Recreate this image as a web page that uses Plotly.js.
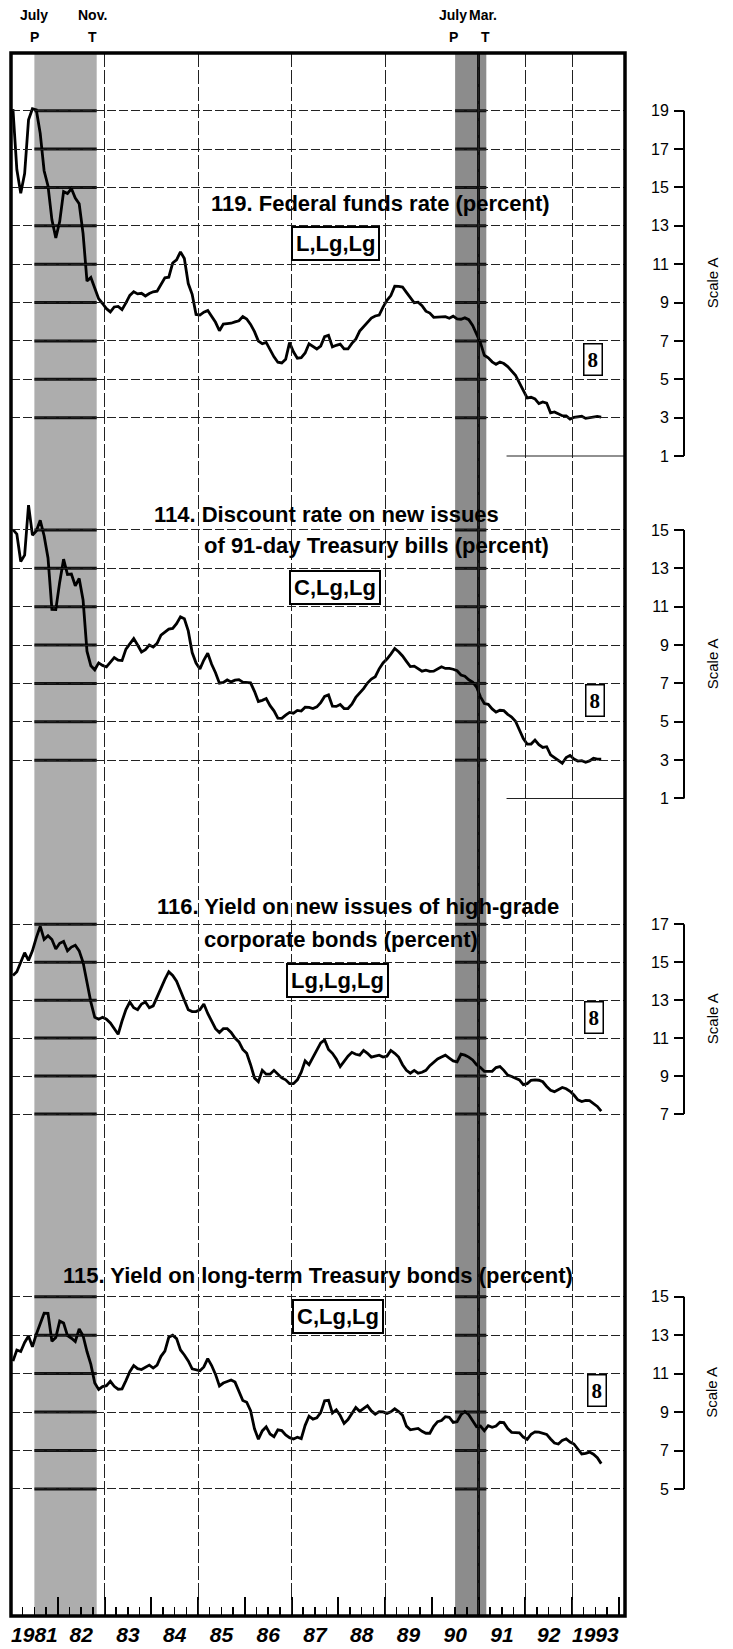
<!DOCTYPE html>
<html><head><meta charset="utf-8">
<script src="https://cdn.plot.ly/plotly-3.0.1.min.js"></script>
<style>html,body{margin:0;padding:0;background:#fff}#chart{width:733px;height:1649px}</style>
</head><body><div id="chart"></div>
<script>
// ---------------- DATA (monthly, Jan 1981 - Aug 1993) ----------------
const startYear = 1981;

const fedFunds = [
19.08,15.93,14.70,15.72,18.52,19.10,19.04,17.82,15.87,15.08,13.31,12.37,
13.22,14.78,14.68,14.94,14.45,14.15,12.59,10.12,10.31,9.71,9.20,8.95,
8.68,8.51,8.77,8.80,8.63,8.98,9.37,9.56,9.45,9.48,9.34,9.47,
9.56,9.59,9.91,10.29,10.32,11.06,11.23,11.64,11.30,9.99,9.43,8.38,
8.35,8.50,8.58,8.27,7.97,7.53,7.88,7.90,7.92,7.99,8.05,8.27,
8.14,7.86,7.48,6.99,6.85,6.92,6.56,6.17,5.89,5.85,6.04,6.91,
6.43,6.10,6.13,6.37,6.85,6.73,6.58,6.73,7.22,7.29,6.69,6.77,
6.83,6.58,6.58,6.87,7.09,7.51,7.75,8.01,8.19,8.30,8.35,8.76,
9.12,9.36,9.85,9.84,9.81,9.53,9.24,8.99,9.02,8.84,8.55,8.45,
8.23,8.24,8.28,8.26,8.18,8.29,8.15,8.13,8.20,8.11,7.81,7.31,
6.91,6.25,6.12,5.91,5.78,5.90,5.82,5.66,5.45,5.21,4.81,4.43,
4.03,4.06,3.98,3.73,3.82,3.76,3.25,3.30,3.22,3.10,3.09,2.92,
3.02,3.03,3.07,2.96,3.00,3.04,3.06,3.03];

const tBillRate = [
15.02,14.79,13.36,13.69,16.30,14.73,14.95,15.51,14.70,13.54,10.86,10.85,
12.28,13.48,12.68,12.70,12.09,12.47,11.35,8.68,7.92,7.71,8.07,7.94,
7.86,8.11,8.35,8.21,8.19,8.79,9.08,9.34,9.00,8.64,8.76,9.00,
8.90,9.09,9.52,9.69,9.83,9.87,10.12,10.47,10.37,9.74,8.61,8.06,
7.76,8.22,8.57,8.00,7.56,7.01,7.05,7.18,7.08,7.17,7.20,7.07,
7.04,7.03,6.59,6.06,6.12,6.21,5.84,5.57,5.19,5.18,5.35,5.49,
5.45,5.59,5.56,5.76,5.75,5.69,5.78,6.00,6.32,6.40,5.81,5.80,
5.90,5.69,5.69,5.92,6.27,6.50,6.73,7.02,7.23,7.35,7.76,8.07,
8.27,8.53,8.82,8.65,8.43,8.15,7.88,7.90,7.75,7.64,7.69,7.63,
7.64,7.76,7.87,7.78,7.78,7.74,7.66,7.44,7.38,7.19,7.07,6.81,
6.30,5.95,5.91,5.67,5.51,5.60,5.58,5.39,5.25,5.03,4.60,4.12,
3.84,3.84,4.05,3.81,3.66,3.70,3.28,3.14,2.97,2.84,3.14,3.25,
3.06,2.95,2.97,2.89,2.96,3.10,3.05,3.05];

const corpBondYield = [
14.3,14.5,15.0,15.5,15.1,15.6,16.3,16.9,16.2,16.4,16.2,15.7,
16.0,16.1,15.6,15.8,15.9,15.6,15.0,14.0,12.9,12.1,12.0,12.1,
12.0,11.8,11.5,11.2,11.9,12.5,12.9,12.6,12.5,12.8,12.9,12.6,
12.7,13.2,13.7,14.1,14.5,14.3,14.0,13.5,13.1,12.5,12.4,12.4,
12.5,12.8,12.3,11.9,11.5,11.3,11.5,11.5,11.3,11.0,10.8,10.4,
10.2,9.6,8.9,8.7,9.3,9.1,9.1,9.3,9.1,8.9,8.8,8.6,
8.6,8.8,9.2,9.8,9.6,10.0,10.4,10.75,10.9,10.4,10.2,9.9,
9.5,9.8,10.05,10.25,10.15,10.1,10.35,10.2,10.0,10.05,10.1,10.0,
10.05,10.35,10.2,10.0,9.6,9.3,9.15,9.3,9.15,9.2,9.3,9.55,
9.75,9.9,10.0,10.1,9.95,9.8,9.75,10.15,10.1,10.0,9.85,9.6,
9.45,9.25,9.25,9.25,9.45,9.5,9.3,9.05,8.98,8.9,8.8,8.55,
8.6,8.78,8.8,8.78,8.7,8.45,8.25,8.18,8.27,8.4,8.33,8.2,
8.0,7.75,7.66,7.72,7.7,7.55,7.4,7.15];

const treasuryBondYield = [
11.65,12.23,12.15,12.62,12.96,12.39,13.05,13.61,14.14,14.13,12.68,12.88,
13.73,13.63,12.98,12.84,12.67,13.32,12.97,12.15,11.48,10.51,10.18,10.33,
10.37,10.60,10.34,10.19,10.21,10.64,11.10,11.42,11.26,11.21,11.32,11.44,
11.29,11.44,11.90,12.17,12.89,13.00,12.82,12.23,11.97,11.66,11.25,11.21,
11.15,11.35,11.78,11.42,10.96,10.36,10.51,10.59,10.67,10.56,10.08,9.60,
9.51,9.07,8.13,7.59,8.02,8.23,7.86,7.72,8.08,8.04,7.81,7.67,
7.60,7.69,7.62,8.31,8.79,8.63,8.70,8.97,9.59,9.61,8.95,9.12,
8.82,8.41,8.61,8.91,9.24,9.04,9.20,9.33,9.06,8.89,9.02,9.01,
8.93,9.01,9.17,9.03,8.83,8.27,8.08,8.12,8.15,8.00,7.90,7.90,
8.26,8.50,8.56,8.76,8.73,8.46,8.50,8.86,9.03,8.86,8.54,8.24,
8.27,8.03,8.29,8.21,8.27,8.47,8.45,8.14,7.95,7.93,7.92,7.70,
7.58,7.85,7.97,7.96,7.89,7.84,7.60,7.39,7.34,7.53,7.61,7.44,
7.34,7.09,6.82,6.85,6.92,6.81,6.63,6.32];

const yearLabels = ['1981','82','83','84','85','86','87','88','89','90','91','92','1993'];
const gridYears = [1983, 1985, 1987, 1989, 1991, 1992, 1993];
const recessions = [[1981.5, 1982.833], [1990.5, 1991.167]];
const turnLabels = [['July','P'], ['Nov.','T'], ['July','P'], ['Mar.','T']];

const panelTitles = [
  ['119. Federal funds rate (percent)'],
  ['114. Discount rate on new issues', 'of 91-day Treasury bills (percent)'],
  ['116. Yield on new issues of high-grade', 'corporate bonds (percent)'],
  ['115. Yield on long-term Treasury bonds (percent)']
];
const timingCodes = ['L,Lg,Lg', 'C,Lg,Lg', 'Lg,Lg,Lg', 'C,Lg,Lg'];
const chartNumber = '8';
const scaleName = 'Scale A';
const scaleTicks = [
  [1,3,5,7,9,11,13,15,17,19],
  [1,3,5,7,9,11,13,15],
  [7,9,11,13,15,17],
  [5,7,9,11,13,15]
];
const gridValues = [
  [3,5,7,9,11,13,15,17,19],
  [3,5,7,9,11,13,15],
  [7,9,11,13,15,17],
  [5,7,9,11,13,15]
];
const partialGrid = [1, 1, null, null];
const partialGridStart = 1991.6;
const series = [fedFunds, tBillRate, corpBondYield, treasuryBondYield];

// ---------------- LAYOUT GEOMETRY (pixels) ----------------
const W = 733, H = 1649;
const PL = 11, PR = 625, PT = 53, PB = 1616;
const plotW = W - PL, plotH = PB - PT;
const xp = px => (px - PL) / plotW;
const yp = py => (PB - py) / plotH;
const xDomEnd = xp(PR);
const xRange = [startYear, startYear + (PR - PL) / 46.75];

// panel vertical calibration: [vTop, pxTop, vBot, pxBot, lo, hi]
const panelCal = [
  [19, 110.7, 1, 456, 0.3, 20.0],
  [15, 530, 1, 798.5, 0.3, 16.8],
  [17, 924.3, 7, 1114, 6.2, 17.8],
  [15, 1296.7, 5, 1489, 4.5, 15.5]
];
const titlePos = [
  [{x:380, y:203, anchor:'center'}],
  [{x:152, y:514, anchor:'left'}, {x:202, y:545, anchor:'left'}],
  [{x:155, y:906, anchor:'left'}, {x:202, y:939, anchor:'left'}],
  [{x:61, y:1275, anchor:'left'}]
];
const codePos = [[335,243],[335,588],[337,980],[338,1316]];
const numPos = [[593,359],[595,701],[594,1017],[597,1390]];
const scaleLineX = 684, scaleTitleX = 712;

const titleFont = {family:'Liberation Sans, Arial, sans-serif', size:22, color:'#000', weight:'bold'};
const smallFont = {family:'Liberation Sans, Arial, sans-serif', size:15, color:'#000'};

const layout = {
  width: W, height: H,
  margin: {l: PL, r: 0, t: PT, b: H - PB, pad: 0},
  paper_bgcolor: '#fff', plot_bgcolor: 'rgba(0,0,0,0)',
  showlegend: false,
  shapes: [], annotations: [],
  xaxis: {
    domain: [0, xDomEnd], range: xRange, anchor: 'free', position: 0,
    tickmode: 'linear', tick0: startYear, dtick: 1,
    ticks: 'inside', ticklen: 19, tickwidth: 2, tickcolor: '#000',
    showticklabels: false, showgrid: false, zeroline: false, showline: false, fixedrange: true,
    minor: {tickmode: 'linear', tick0: startYear, dtick: 0.25, ticks: 'inside', ticklen: 9, tickwidth: 1.5, tickcolor: '#000', showgrid: false}
  },
  xaxis2: {
    domain: [0, xDomEnd], range: xRange, anchor: 'y9',
    tickmode: 'array', tickvals: yearLabels.map((_, i) => startYear + i + 0.5), ticktext: yearLabels,
    ticks: '', ticklabelstandoff: 4, showgrid: false, zeroline: false, showline: false, fixedrange: true,
    tickfont: {family: 'Liberation Sans, Arial, sans-serif', size: 21, color: '#000', weight: 'bold', style: 'italic'}
  },
  xaxis3: {
    domain: [0, xDomEnd], range: xRange, anchor: 'y9',
    tickmode: 'array', tickvals: gridYears, showticklabels: false, ticks: '',
    showgrid: true, gridcolor: '#222', gridwidth: 1, griddash: '14px,3px',
    zeroline: false, showline: false, fixedrange: true
  },
  yaxis9: {domain: [0, 1], range: [0, 1], anchor: 'x2', visible: false, fixedrange: true}
};

const traces = [];

panelCal.forEach((c, i) => {
  const [vTop, pxTop, vBot, pxBot, lo, hi] = c;
  const slope = (pxBot - pxTop) / (vTop - vBot);
  const pxLo = pxBot + (vBot - lo) * slope;
  const pxHi = pxTop - (hi - vTop) * slope;
  const dom = [yp(pxLo), yp(pxHi)];
  const n = i + 1;
  const yid = n === 1 ? 'y' : 'y' + n;
  const gid = 'y' + (n + 4);
  layout['yaxis' + (n === 1 ? '' : n)] = {
    domain: dom, range: [lo, hi], anchor: 'free', position: xp(scaleLineX), side: 'left',
    tickmode: 'array', tickvals: scaleTicks[i], ticks: 'outside', ticklen: 10, tickwidth: 2, tickcolor: '#000',
    ticklabelstandoff: 2,
    tickfont: {family: 'Liberation Sans, Arial, sans-serif', size: 16, color: '#000'},
    showgrid: false, zeroline: false, showline: false, fixedrange: true
  };
  layout['yaxis' + (n + 4)] = {
    domain: dom, range: [lo, hi], anchor: 'x',
    tickmode: 'array', tickvals: gridValues[i], showticklabels: false, ticks: '',
    showgrid: true, gridcolor: '#222', gridwidth: 1, griddash: '9px,3px',
    zeroline: false, showline: false, fixedrange: true
  };
  traces.push({type: 'scatter', x: [], y: [], xaxis: 'x', yaxis: gid, hoverinfo: 'skip', showlegend: false});
  const vals = series[i];
  traces.push({
    type: 'scatter', mode: 'lines',
    x: vals.map((_, k) => startYear + (k + 0.5) / 12), y: vals,
    xaxis: 'x', yaxis: yid,
    line: {color: '#000', width: 2.8}, hoverinfo: 'skip', showlegend: false
  });
  const tk = scaleTicks[i];
  layout.shapes.push({type: 'line', xref: 'paper', yref: yid, x0: xp(scaleLineX), x1: xp(scaleLineX),
    y0: Math.min(...tk), y1: Math.max(...tk), line: {color: '#000', width: 2}, layer: 'above'});
  if (partialGrid[i] !== null) {
    layout.shapes.push({type: 'line', xref: 'x', yref: yid, x0: partialGridStart, x1: xRange[1],
      y0: partialGrid[i], y1: partialGrid[i], line: {color: '#222', width: 1.2}, layer: 'between'});
  }
  recessions.forEach(r => {
    gridValues[i].forEach(v => {
      layout.shapes.push({type: 'line', xref: 'x', yref: yid, x0: r[0], x1: r[1], y0: v, y1: v,
        line: {color: '#111', width: 3}, layer: 'between'});
    });
  });
  panelTitles[i].forEach((t, j) => {
    const p = titlePos[i][j];
    layout.annotations.push({text: t, xref: 'paper', yref: 'paper', x: xp(p.x), y: yp(p.y),
      xanchor: p.anchor, yanchor: 'middle', showarrow: false, font: titleFont});
  });
  layout.annotations.push({text: timingCodes[i], xref: 'paper', yref: 'paper',
    x: xp(codePos[i][0]), y: yp(codePos[i][1]), xanchor: 'center', yanchor: 'middle', showarrow: false,
    font: titleFont, bgcolor: '#fff', bordercolor: '#000', borderwidth: 2, borderpad: 3});
  layout.annotations.push({text: chartNumber, xref: 'paper', yref: 'paper',
    x: xp(numPos[i][0]), y: yp(numPos[i][1]), xanchor: 'center', yanchor: 'middle', showarrow: false,
    font: {family: 'Liberation Serif, Times New Roman, serif', size: 21, color: '#000', weight: 'bold'},
    bgcolor: '#fff', bordercolor: '#000', borderwidth: 1.5, borderpad: 3});
  layout.annotations.push({text: scaleName, xref: 'paper', yref: yid,
    x: xp(scaleTitleX), y: (Math.min(...tk) + Math.max(...tk)) / 2, textangle: -90,
    xanchor: 'center', yanchor: 'middle', showarrow: false, font: smallFont});
});

traces.push({type: 'scatter', x: [], y: [], xaxis: 'x2', yaxis: 'y9', hoverinfo: 'skip', showlegend: false});
traces.push({type: 'scatter', x: [], y: [], xaxis: 'x3', yaxis: 'y9', hoverinfo: 'skip', showlegend: false});

const bandColors = ['#adadad', '#8c8c8c'];
recessions.forEach((r, i) => {
  layout.shapes.push({type: 'rect', xref: 'x', yref: 'paper', x0: r[0], x1: r[1], y0: 0, y1: 1,
    fillcolor: bandColors[i], line: {width: 0}, layer: 'below'});
});
layout.shapes.push({type: 'line', xref: 'x', yref: 'paper', x0: 1991, x1: 1991, y0: 0, y1: 1,
  line: {color: '#111', width: 3}, layer: 'below'});
layout.shapes.push({type: 'rect', xref: 'paper', yref: 'paper', x0: 0, x1: xDomEnd, y0: 0, y1: 1,
  line: {color: '#000', width: 3.5}, layer: 'above'});

const turnX = [recessions[0][0], recessions[0][1], recessions[1][0], recessions[1][1]];
const turnDx = [0, -4, -2, -1];
turnLabels.forEach((tl, i) => {
  const f = {family: 'Liberation Sans, Arial, sans-serif', size: 14, color: '#000', weight: 'bold'};
  layout.annotations.push({text: tl[0], xref: 'x', yref: 'paper', x: turnX[i], xshift: turnDx[i] - (i === 3 ? 2 : 0), y: yp(15),
    xanchor: 'center', yanchor: 'middle', showarrow: false, font: f});
  layout.annotations.push({text: tl[1], xref: 'x', yref: 'paper', x: turnX[i], xshift: turnDx[i], y: yp(37),
    xanchor: 'center', yanchor: 'middle', showarrow: false, font: f});
});

Plotly.newPlot('chart', traces, layout, {staticPlot: true, displayModeBar: false});
</script></body></html>
